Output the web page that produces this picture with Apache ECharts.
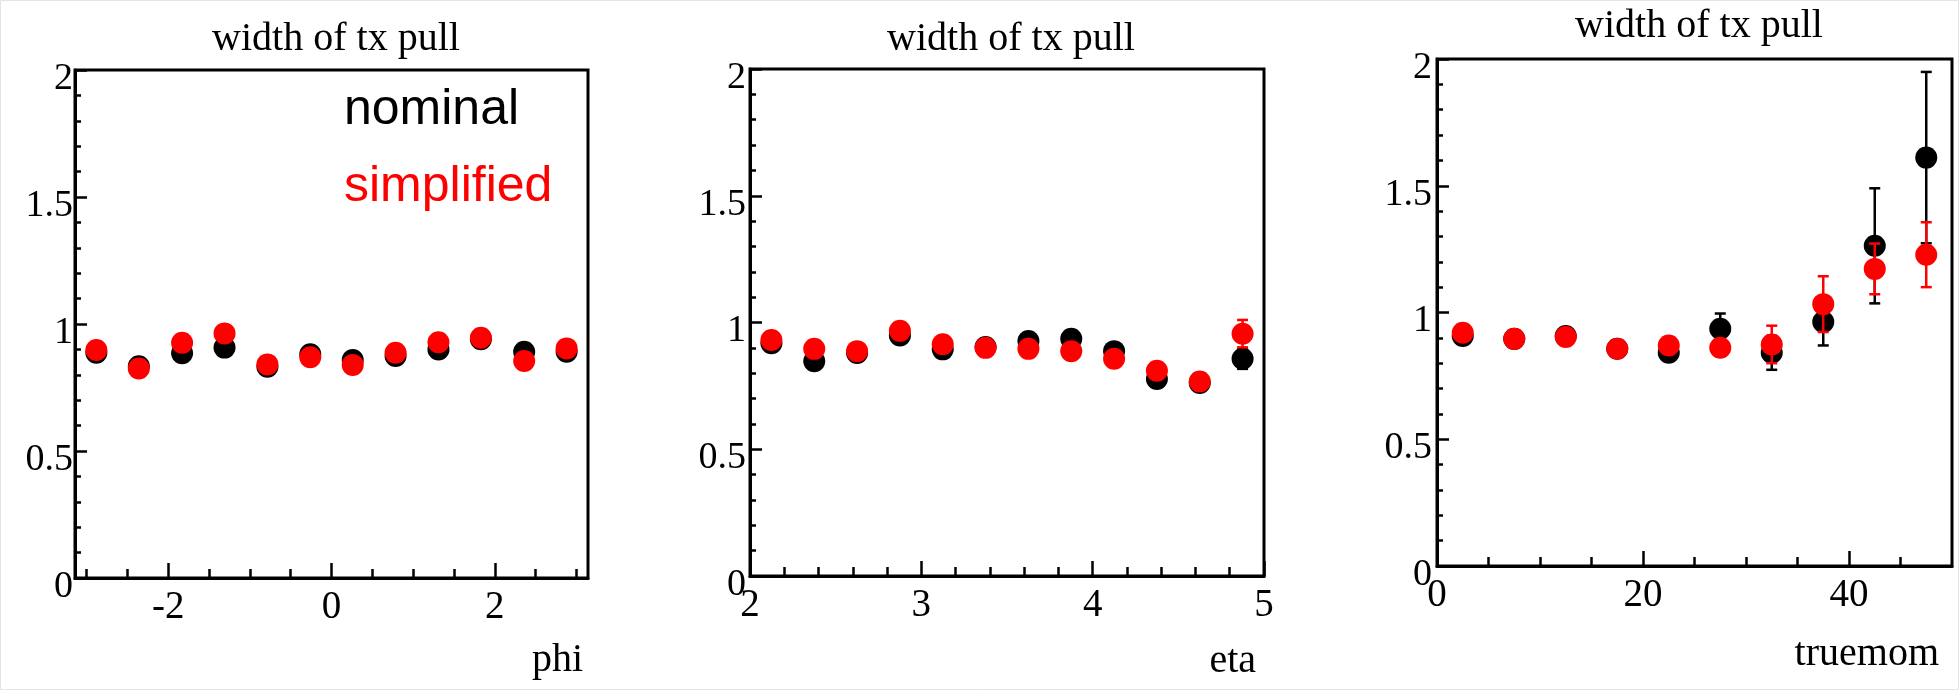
<!DOCTYPE html>
<html>
<head>
<meta charset="utf-8">
<script src="https://cdn.jsdelivr.net/npm/echarts@6/dist/echarts.min.js"></script>
<style>
html,body{margin:0;padding:0;background:#fff;}
#chart{width:1959px;height:690px;}
</style>
</head>
<body>
<div id="chart"></div>
<script>
// ---------- data ----------
const titleText = 'width of tx pull';
const seriesNames = ['nominal', 'simplified'];

const phiCenters = [-2.88, -2.36, -1.83, -1.31, -0.785, -0.26, 0.26, 0.785, 1.31, 1.83, 2.36, 2.88];
const phiNominal = [0.887, 0.834, 0.885, 0.907, 0.832, 0.881, 0.858, 0.874, 0.900, 0.940, 0.891, 0.891];
const phiNominalErr = [0.02, 0.02, 0.02, 0.02, 0.02, 0.02, 0.02, 0.02, 0.02, 0.02, 0.02, 0.02];
const phiSimplified = [0.898, 0.825, 0.926, 0.963, 0.841, 0.869, 0.839, 0.887, 0.928, 0.946, 0.854, 0.904];
const phiSimplifiedErr = [0.02, 0.02, 0.02, 0.02, 0.02, 0.02, 0.02, 0.02, 0.02, 0.02, 0.02, 0.02];

const etaCenters = [2.125, 2.375, 2.625, 2.875, 3.125, 3.375, 3.625, 3.875, 4.125, 4.375, 4.625, 4.875];
const etaNominal = [0.918, 0.847, 0.880, 0.949, 0.894, 0.903, 0.927, 0.936, 0.887, 0.777, 0.761, 0.857];
const etaNominalErr = [0.01, 0.01, 0.01, 0.01, 0.01, 0.01, 0.01, 0.01, 0.015, 0.02, 0.02, 0.04];
const etaSimplified = [0.931, 0.896, 0.887, 0.967, 0.914, 0.900, 0.896, 0.887, 0.857, 0.810, 0.767, 0.956];
const etaSimplifiedErr = [0.01, 0.01, 0.01, 0.01, 0.01, 0.01, 0.01, 0.01, 0.015, 0.02, 0.02, 0.054];

const momCenters = [2.5, 7.5, 12.5, 17.5, 22.5, 27.5, 32.5, 37.5, 42.5, 47.5];
const momNominal = [0.907, 0.896, 0.907, 0.857, 0.841, 0.936, 0.841, 0.963, 1.263, 1.611];
const momNominalErr = [0.01, 0.01, 0.01, 0.015, 0.02, 0.06, 0.067, 0.093, 0.227, 0.338];
const momSimplified = [0.920, 0.896, 0.903, 0.857, 0.870, 0.861, 0.874, 1.033, 1.172, 1.228];
const momSimplifiedErr = [0.01, 0.01, 0.01, 0.015, 0.02, 0.03, 0.074, 0.11, 0.10, 0.128];

const phiMajorTicks = [-2, 0, 2];
const phiMinorTicks = [-3, -2.5, -2, -1.5, -1, -0.5, 0, 0.5, 1, 1.5, 2, 2.5, 3];
const etaMajorTicks = [2, 3, 4, 5];
const etaMinorTicks = [2.2, 2.4, 2.6, 2.8, 3.2, 3.4, 3.6, 3.8, 4.2, 4.4, 4.6, 4.8];
const momMajorTicks = [0, 20, 40];
const momMinorTicks = [5, 10, 15, 25, 30, 35, 45];

const xNames = ['phi', 'eta', 'truemom'];

// ---------- layout ----------
const SERIF = 'Liberation Serif';
const SANS = 'Liberation Sans';
const panels = [
  {left: 75, top: 70, width: 513, height: 508, xmin: -Math.PI, xmax: Math.PI, major: phiMajorTicks, minor: phiMinorTicks,
   x: phiCenters, nom: phiNominal, nomErr: phiNominalErr, sim: phiSimplified, simErr: phiSimplifiedErr,
   titleX: 336, titleTop: 19, yLabelMargin: 2, nameGap: -5, namePad: 62},
  {left: 750, top: 69, width: 514, height: 507, xmin: 2, xmax: 5, major: etaMajorTicks, minor: etaMinorTicks,
   x: etaCenters, nom: etaNominal, nomErr: etaNominalErr, sim: etaSimplified, simErr: etaSimplifiedErr,
   titleX: 1011, titleTop: 19, yLabelMargin: 4, nameGap: -8, namePad: 65},
  {left: 1437, top: 59, width: 515, height: 507, xmin: 0, xmax: 50, major: momMajorTicks, minor: momMinorTicks,
   x: momCenters, nom: momNominal, nomErr: momNominalErr, sim: momSimplified, simErr: momSimplifiedErr,
   titleX: 1699, titleTop: 6, yLabelMargin: 5, nameGap: -13, namePad: 68}
];

const grids = [], xAxes = [], yAxes = [], series = [], titles = [];

function errRender(color) {
  return function (params, api) {
    const x = api.value(0), y = api.value(1), e = api.value(2);
    const top = api.coord([x, y + e]);
    const bot = api.coord([x, y - e]);
    const cap = 5.5;
    const st = {stroke: color, lineWidth: 2.5};
    return {type: 'group', children: [
      {type: 'line', shape: {x1: top[0], y1: top[1], x2: bot[0], y2: bot[1]}, style: st},
      {type: 'line', shape: {x1: top[0] - cap, y1: top[1], x2: top[0] + cap, y2: top[1]}, style: st},
      {type: 'line', shape: {x1: bot[0] - cap, y1: bot[1], x2: bot[0] + cap, y2: bot[1]}, style: st}
    ]};
  };
}

panels.forEach((p, i) => {
  grids.push({left: p.left, top: p.top, width: p.width, height: p.height, show: true,
    borderColor: '#000', borderWidth: 3, backgroundColor: 'transparent', containLabel: false});
  titles.push({text: titleText, left: p.titleX, top: p.titleTop, textAlign: 'center', padding: 0,
    textStyle: {fontFamily: SERIF, fontSize: 40, fontWeight: 'normal', color: '#000'}});
  // main x axis
  xAxes.push({type: 'value', gridIndex: i, position: 'bottom', min: p.xmin, max: p.xmax,
    name: xNames[i], nameLocation: 'end', nameGap: p.nameGap,
    nameTextStyle: {fontFamily: SERIF, fontSize: 40, color: '#000', align: 'right', verticalAlign: 'top', padding: [p.namePad, 0, 0, 0]},
    axisLine: {show: true, onZero: false, lineStyle: {color: '#000', width: 3}},
    axisTick: {show: true, inside: true, length: 15, lineStyle: {color: '#000', width: 2.5}, customValues: p.major},
    axisLabel: {show: true, customValues: p.major, margin: 10, fontFamily: SERIF, fontSize: 39, color: '#000',
      formatter: v => String(v)},
    splitLine: {show: false}, minorTick: {show: false}});
  // minor tick overlay x axis
  xAxes.push({type: 'value', gridIndex: i, position: 'bottom', min: p.xmin, max: p.xmax,
    axisLine: {show: false, onZero: false},
    axisTick: {show: true, inside: true, length: 9, lineStyle: {color: '#000', width: 2.5}, customValues: p.minor},
    axisLabel: {show: false}, splitLine: {show: false}});
  yAxes.push({type: 'value', gridIndex: i, min: 0, max: 2, interval: 0.5,
    axisLine: {show: true, onZero: false, lineStyle: {color: '#000', width: 3}},
    axisTick: {show: true, inside: true, length: 12, lineStyle: {color: '#000', width: 2.5}},
    minorTick: {show: true, splitNumber: 5, length: 6, lineStyle: {color: '#000', width: 2.5}},
    axisLabel: {show: true, margin: p.yLabelMargin, fontFamily: SERIF, fontSize: 38, color: '#000',
      verticalAlign: 'top', lineHeight: 18},
    splitLine: {show: false}});

  const xi = i * 2;
  const nomData = p.x.map((x, k) => [x, p.nom[k], p.nomErr[k]]);
  const simData = p.x.map((x, k) => [x, p.sim[k], p.simErr[k]]);
  series.push({type: 'custom', name: seriesNames[0], xAxisIndex: xi, yAxisIndex: i, z: 2,
    renderItem: errRender('#000'), data: nomData, silent: true, encode: {x: 0, y: 1}});
  series.push({type: 'scatter', name: seriesNames[0], xAxisIndex: xi, yAxisIndex: i, z: 3,
    symbol: 'circle', symbolSize: 22, itemStyle: {color: '#000', opacity: 1}, data: nomData.map(d => [d[0], d[1]])});
  series.push({type: 'custom', name: seriesNames[1], xAxisIndex: xi, yAxisIndex: i, z: 4,
    renderItem: errRender('#ff0000'), data: simData, silent: true, encode: {x: 0, y: 1}});
  series.push({type: 'scatter', name: seriesNames[1], xAxisIndex: xi, yAxisIndex: i, z: 5,
    symbol: 'circle', symbolSize: 22, itemStyle: {color: '#ff0000', opacity: 1}, data: simData.map(d => [d[0], d[1]])});
});

const chart = echarts.init(document.getElementById('chart'), null, {renderer: 'canvas'});
chart.setOption({
  backgroundColor: '#fff',
  animation: false,
  title: titles,
  legend: {
    show: true, orient: 'vertical', left: 339, top: 80, padding: 0, itemGap: 17,
    itemWidth: 0, itemHeight: 0, icon: 'circle', selectedMode: false,
    textStyle: {fontFamily: SANS, fontSize: 50, lineHeight: 60},
    data: [
      {name: seriesNames[0], textStyle: {color: '#000'}},
      {name: seriesNames[1], textStyle: {color: '#ff0000'}}
    ]
  },
  grid: grids,
  xAxis: xAxes,
  yAxis: yAxes,
  series: series,
  graphic: [{type: 'rect', shape: {x: 0.5, y: 0.5, width: 1958, height: 689}, style: {fill: 'none', stroke: '#e4e4e4', lineWidth: 1}, silent: true}]
});
</script>
</body>
</html>
